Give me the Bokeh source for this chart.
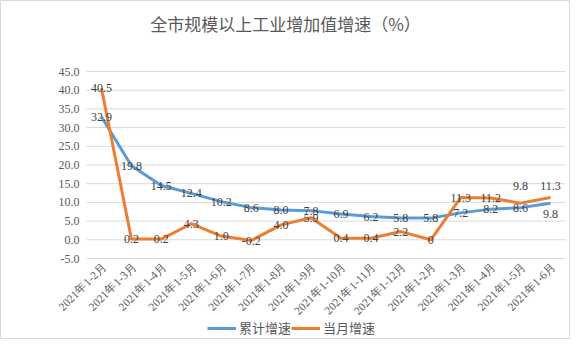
import math
from bokeh.plotting import figure
from bokeh.models import (ColumnDataSource, LabelSet, Label, Legend,
                          LegendItem, Range1d)
from bokeh.embed import file_html
from bokeh.resources import INLINE

# ---- data ----
categories = ["2021年1-2月", "2021年1-3月", "2021年1-4月", "2021年1-5月",
              "2021年1-6月", "2021年1-7月", "2021年1-8月", "2021年1-9月",
              "2021年1-10月", "2021年1-11月", "2021年1-12月", "2021年1-2月",
              "2021年1-3月", "2021年1-4月", "2021年1-5月", "2021年1-6月"]
cumulative = [32.9, 19.8, 14.5, 12.4, 10.2, 8.6, 8.0, 7.8, 6.9, 6.2, 5.8,
              5.8, 7.2, 8.2, 8.6, 9.8]
monthly = [40.5, 0.2, 0.2, 4.3, 1.0, -0.2, 4.0, 5.9, 0.4, 0.4, 2.2, 0,
           11.3, 11.2, 9.8, 11.3]
y_ticks = [-5, 0, 5, 10, 15, 20, 25, 30, 35, 40, 45]
series_names = ["累计增速", "当月增速"]
title_text = "全市规模以上工业增加值增速（%）"

FONT = "Noto Sans CJK SC"
BLUE = "#5B9BD5"
ORANGE = "#ED7D31"
GREY = "#595959"
GRID = "#D9D9D9"

# ---- layout (pixels of the 570x339 canvas) ----
W, H = 570, 339
PLOT_LEFT, PLOT_RIGHT = 86, 565      # plot area (category band) in px
PLOT_TOP, PLOT_BOTTOM = 71, 258      # y of top / bottom tick in px
TITLE_Y = 23

n = len(categories)
xs = list(range(n))
px_per_cat = (PLOT_RIGHT - PLOT_LEFT) / n
px_per_unit = (PLOT_BOTTOM - PLOT_TOP) / (y_ticks[-1] - y_ticks[0])
x_start = -0.5 - PLOT_LEFT / px_per_cat
x_end = x_start + W / px_per_cat
y_end = y_ticks[-1] + PLOT_TOP / px_per_unit
y_start = y_end - H / px_per_unit

# label nudges (screen px) for a few labels that were moved in the original
cum_nudge = {15: -11}
mon_nudge = {14: 17, 15: 12}

cum_src = ColumnDataSource(dict(
    x=xs, y=cumulative, t=[str(v) for v in cumulative],
    dy=[cum_nudge.get(i, 0) for i in xs]))
mon_src = ColumnDataSource(dict(
    x=xs, y=monthly, t=[str(v) for v in monthly],
    dy=[mon_nudge.get(i, 0) for i in xs]))
cat_src = ColumnDataSource(dict(x=xs, y=[y_ticks[0]] * n, t=categories))
tick_src = ColumnDataSource(dict(
    x=[-0.5] * len(y_ticks), x1=[n - 0.5] * len(y_ticks), y=y_ticks,
    t=[f"{v:.1f}" for v in y_ticks]))

p = figure(width=W, height=H, output_backend="svg", toolbar_location=None,
           x_range=Range1d(x_start, x_end), y_range=Range1d(y_start, y_end),
           x_axis_type=None, y_axis_type=None,
           min_border=0, min_border_left=0, min_border_right=0,
           min_border_top=0, min_border_bottom=0)
p.outline_line_color = GRID
p.background_fill_color = "white"
p.border_fill_color = "white"
p.grid.visible = False

# horizontal gridlines at the value ticks
p.segment(x0="x", y0="y", x1="x1", y1="y", source=tick_src,
          line_color=GRID, line_width=1)

# value-axis labels
p.add_layout(LabelSet(x="x", y="y", text="t", source=tick_src, x_offset=-7,
                      text_align="right", text_baseline="middle",
                      text_font=FONT, text_font_size="12px",
                      text_color=GREY))

r1 = p.line("x", "y", source=cum_src, line_color=BLUE, line_width=3,
            line_join="round")
r2 = p.line("x", "y", source=mon_src, line_color=ORANGE, line_width=3,
            line_join="round")

for src in (cum_src, mon_src):
    p.add_layout(LabelSet(x="x", y="y", text="t", source=src, y_offset="dy",
                          text_align="center", text_baseline="middle",
                          text_font=FONT, text_font_size="12px",
                          text_color="#404040"))

# category labels, rotated 45 degrees
p.add_layout(LabelSet(x="x", y="y", text="t", source=cat_src,
                      angle=math.pi / 4, text_align="right",
                      text_baseline="middle", x_offset=3, y_offset=-6,
                      text_font=FONT, text_font_size="11.5px",
                      text_color=GREY))

# title
p.add_layout(Label(x=(x_start + x_end) / 2, y=y_end - TITLE_Y / px_per_unit,
                   text=title_text, text_align="center",
                   text_baseline="middle", text_font=FONT,
                   text_font_size="17px", text_color=GREY))

legend = Legend(items=[LegendItem(label=series_names[0], renderers=[r1]),
                       LegendItem(label=series_names[1], renderers=[r2])],
                orientation="horizontal", location=(207, 2),
                label_text_font=FONT, label_text_font_size="13px",
                label_text_color=GREY, glyph_width=29, glyph_height=12,
                spacing=-21, label_standoff=3, border_line_color=None,
                background_fill_alpha=0, padding=2, margin=0)
p.add_layout(legend, "center")

open("out.html", "w").write(file_html(p, INLINE))
